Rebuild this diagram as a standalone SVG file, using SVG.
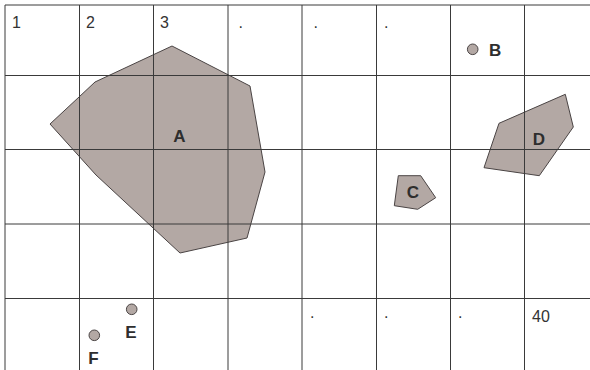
<svg xmlns="http://www.w3.org/2000/svg" width="590" height="370" viewBox="0 0 590 370">
<style>
.grid line{stroke:#3a3a3a;stroke-width:1}
.num{font-family:"Liberation Sans",Arial,sans-serif;font-size:16px;fill:#333}
.lbl{font-family:"Liberation Sans",Arial,sans-serif;font-size:17px;font-weight:bold;fill:#2e2e2e}
.shape{fill:#b3a8a4;stroke:#4a4444;stroke-width:1}
</style>
<rect width="590" height="370" fill="#fff"/>
<g id="A">
<polygon class="shape" points="50,124 79,97 95,82 172,46 250,86 265,172 247,238 180,253 96,175"/>
<text class="lbl" x="179.5" y="142" text-anchor="middle">A</text>
</g>
<g id="B">
<circle class="shape" cx="472.7" cy="49.3" r="5.3"/>
<text class="lbl" x="489" y="55.5">B</text>
</g>
<g id="C">
<polygon class="shape" points="398.3,175.7 420.7,175.7 435.7,197.7 417.7,209.3 394.3,205.7"/>
<text class="lbl" x="413" y="198" text-anchor="middle">C</text>
</g>
<g id="D">
<polygon class="shape" points="499,123.3 565.3,94.3 573.3,127 539.3,175.7 484,167.7"/>
<text class="lbl" x="539" y="145" text-anchor="middle">D</text>
</g>
<g id="E">
<circle class="shape" cx="131.7" cy="309.3" r="5.3"/>
<text class="lbl" x="131" y="338" text-anchor="middle">E</text>
</g>
<g id="F">
<circle class="shape" cx="94.3" cy="335.3" r="5.3"/>
<text class="lbl" x="93.5" y="364" text-anchor="middle">F</text>
</g>
<g class="grid">
<line x1="5" y1="5" x2="5" y2="370"/>
<line x1="79.5" y1="5" x2="79.5" y2="370"/>
<line x1="153.5" y1="5" x2="153.5" y2="370"/>
<line x1="228" y1="5" x2="228" y2="370"/>
<line x1="302" y1="5" x2="302" y2="370"/>
<line x1="376.5" y1="5" x2="376.5" y2="370"/>
<line x1="450.5" y1="5" x2="450.5" y2="370"/>
<line x1="524.5" y1="5" x2="524.5" y2="370"/>
<line x1="5" y1="5" x2="590" y2="5"/>
<line x1="5" y1="75.5" x2="590" y2="75.5"/>
<line x1="5" y1="149.5" x2="590" y2="149.5"/>
<line x1="5" y1="224" x2="590" y2="224"/>
<line x1="5" y1="298.5" x2="590" y2="298.5"/>
</g>
<g id="labels">
<text class="num" x="12" y="28">1</text>
<text class="num" x="86" y="28">2</text>
<text class="num" x="160" y="28">3</text>
<text class="num" x="238.5" y="28">.</text>
<text class="num" x="313.5" y="28">.</text>
<text class="num" x="384" y="28">.</text>
<text class="num" x="310" y="318">.</text>
<text class="num" x="384" y="318">.</text>
<text class="num" x="458" y="318">.</text>
<text class="num" x="532" y="322">40</text>
</g>
<g id="connectors"/>
</svg>
